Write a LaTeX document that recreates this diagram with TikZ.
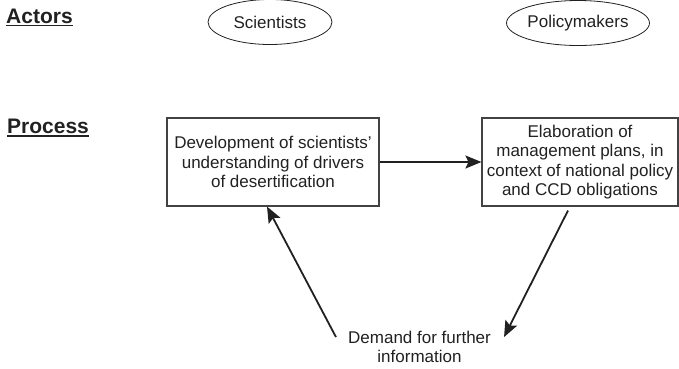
\documentclass[tikz,border=0pt]{standalone}
\usepackage{fontspec}
\setmainfont{Liberation Sans}
\usetikzlibrary{arrows.meta,shapes.geometric}
\definecolor{ink}{gray}{0.13}
\tikzset{
  heading/.style={anchor=base west, inner sep=0pt, font=\fontsize{21}{24}\selectfont\bfseries, text=ink},
  actor/.style={draw=ink, line width=0.8pt, ellipse, minimum width=124pt, minimum height=45pt, inner sep=0pt,
    font=\fontsize{17}{19}\selectfont, text=ink},
  stepbox/.style={draw=ink!85, line width=1.1pt, rectangle, inner sep=0pt, align=center,
    font=\fontsize{17}{19.2}\selectfont, text=ink},
  flow/.style={draw=ink, line width=1.8pt, -{Stealth[length=16pt,width=13pt,inset=3pt]}},
  rule/.style={draw=ink, line width=1.6pt}
}
\begin{document}
\begin{tikzpicture}[x=1pt,y=-1pt]
  \useasboundingbox (0,0) rectangle (679,368);

  % row headings
  \node[heading] (act) at (6,23.3) {Actors};
  \draw[rule] ([yshift=-2.2pt]act.base west) -- ([yshift=-2.2pt]act.base east);
  \node[heading] (proc) at (7,133.5) {Process};
  \draw[rule] ([yshift=-2.2pt]proc.base west) -- ([yshift=-2.2pt]proc.base east);

  % actors
  \node[actor] (sci) at (270,22) {Scientists};
  \node[actor] (pol) at (578,23) {Policymakers};

  % process steps
  \node[stepbox, minimum width=212pt, minimum height=88pt] (dev) at (273,162)
    {Development of scientists'\\understanding of drivers\\of desertification};
  \node[stepbox, minimum width=196pt, minimum height=88pt] (ela) at (580,162)
    {\raisebox{-2pt}{\parbox{196pt}{\centering Elaboration of\\management plans, in\\context of national policy\\and CCD obligations}}};
  \node[align=center, inner sep=0pt, font=\fontsize{17}{19}\selectfont, text=ink] (dem) at (419.5,347)
    {Demand for further\\information};

  % flows
  \draw[flow] (dev.east) -- (ela.west);
  \draw[flow] ([xshift=-12pt,yshift=-4pt]ela.south) -- ([xshift=13pt,yshift=-6pt]dem.north east);
  \draw[flow] ([xshift=-12pt,yshift=-6pt]dem.north west) -- ([xshift=-6pt]dev.south);
\end{tikzpicture}
\end{document}
